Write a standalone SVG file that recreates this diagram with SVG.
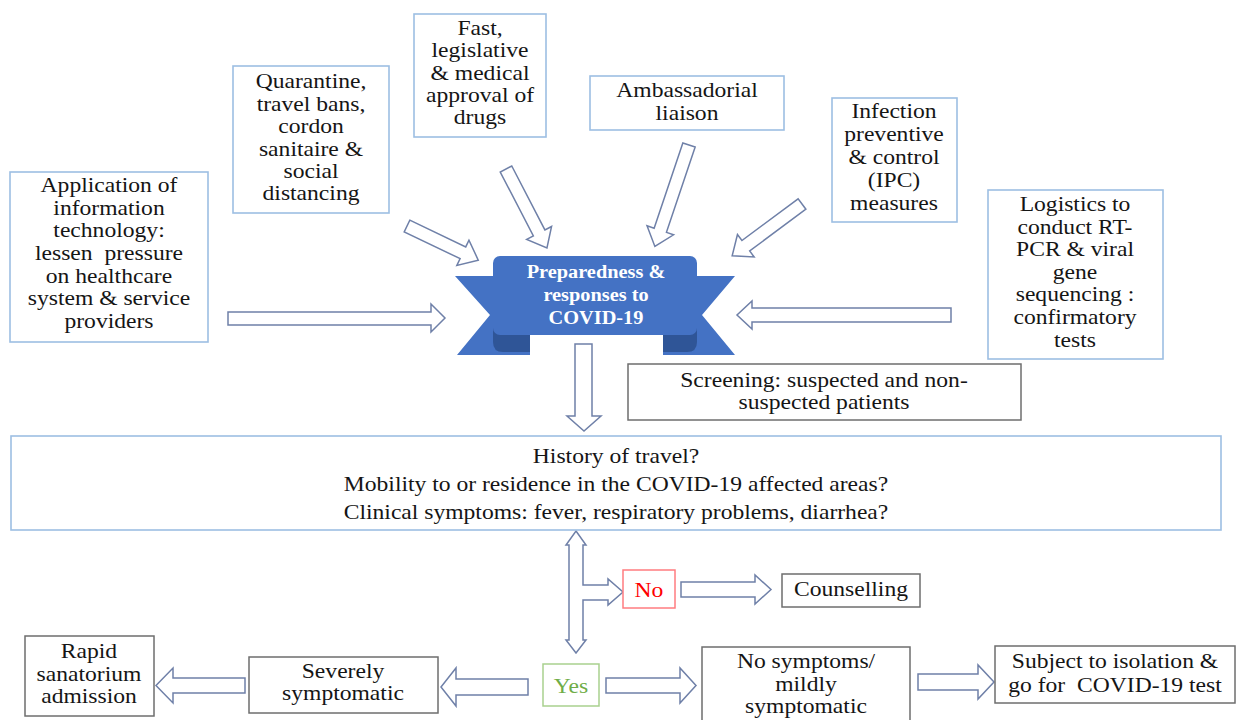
<svg xmlns="http://www.w3.org/2000/svg" width="1236" height="720" viewBox="0 0 1236 720">
<style>
.bb{fill:#fff;stroke:#9DBFE3;stroke-width:1.6}
.gb{fill:#fff;stroke:#6E6E6E;stroke-width:1.5}
.t{font-family:"Liberation Serif","Times New Roman",serif;font-size:20px;fill:#151515;text-anchor:middle}
.bt{font-family:"Liberation Serif","Times New Roman",serif;font-size:18px;font-weight:bold;fill:#fff;text-anchor:middle}
.ar{fill:#fff;stroke:#6F80A8;stroke-width:1.5;stroke-linejoin:miter}
</style>
<rect width="1236" height="720" fill="#fff"/>

<g id="connectors">
  <polygon class="ar" points="228,312 431,312 431,304 445,318 431,332 431,325 228,325"/>
  <polygon class="ar" transform="translate(407,226) rotate(25.6)" points="0,-6.5 62,-6.5 62,-14 79,0 62,14 62,6.5 0,6.5"/>
  <polygon class="ar" transform="translate(506,169) rotate(62.6)" points="0,-6.5 72,-6.5 72,-14 89,0 72,14 72,6.5 0,6.5"/>
  <polygon class="ar" transform="translate(689,145) rotate(108.6)" points="0,-6.5 90,-6.5 90,-14 107,0 90,14 90,6.5 0,6.5"/>
  <polygon class="ar" transform="translate(802,204) rotate(143.4)" points="0,-6.5 70,-6.5 70,-14 87,0 70,14 70,6.5 0,6.5"/>
  <polygon class="ar" points="951,308 752,308 752,301 737,315 752,329 752,322 951,322"/>
  <polygon class="ar" points="575,344 592,344 592,416 601,416 584,431 567,416 575,416"/>
  <path class="ar" d="M576,531 L586,545 L583,545 L583,585 L608,585 L608,579 L623,592 L608,605 L608,600 L583,600 L583,640 L586,640 L576,653 L566,640 L569,640 L569,545 L566,545 Z"/>
  <polygon class="ar" points="681,582 755,582 755,575 771,589.5 755,604 755,597 681,597"/>
  <polygon class="ar" points="606,678 680,678 680,668 696,685.5 680,703 680,693 606,693"/>
  <polygon class="ar" points="918,674 978,674 978,665 994,682 978,699 978,690 918,690"/>
  <polygon class="ar" points="528,679 456,679 456,668 441,687 456,706 456,695 528,695"/>
  <polygon class="ar" points="245,678 173,678 173,668 156,685.5 173,703 173,693 245,693"/>
</g>

<g id="banner">
  <polygon points="455,276 530,276 530,355 457,355 490,315" fill="#4472C4"/>
  <polygon points="735,276 663,276 663,355 735,355 702,315" fill="#4472C4"/>
  <path d="M493,318 H530 V352 H503 Q493,352 493,342 Z" fill="#2F5597"/>
  <path d="M663,318 H697 V342 Q697,352 687,352 H663 Z" fill="#2F5597"/>
  <rect x="493" y="256" width="204" height="79" rx="7" fill="#4472C4"/>
  <text class="bt" transform="translate(596 0) scale(1.13 1)"><tspan x="0" y="278">Preparedness &amp;</tspan><tspan x="0" y="301">responses to</tspan><tspan x="0" y="324">COVID-19</tspan></text>
</g>

<g id="n-app">
  <rect class="bb" x="10" y="172" width="198" height="170"/>
  <text class="t" transform="translate(109 0) scale(1.18 1)"><tspan x="0" y="192">Application of</tspan><tspan x="0" y="215">information</tspan><tspan x="0" y="237">technology:</tspan><tspan x="0" y="260">lessen&#160; pressure</tspan><tspan x="0" y="283">on healthcare</tspan><tspan x="0" y="305">system &amp; service</tspan><tspan x="0" y="328">providers</tspan></text>
</g>

<g id="n-quarantine">
  <rect class="bb" x="233" y="66" width="156" height="147"/>
  <text class="t" transform="translate(311 0) scale(1.18 1)"><tspan x="0" y="88">Quarantine,</tspan><tspan x="0" y="111">travel bans,</tspan><tspan x="0" y="133">cordon</tspan><tspan x="0" y="156">sanitaire &amp;</tspan><tspan x="0" y="178">social</tspan><tspan x="0" y="200">distancing</tspan></text>
</g>

<g id="n-fast">
  <rect class="bb" x="414" y="14" width="132" height="123"/>
  <text class="t" transform="translate(480 0) scale(1.18 1)"><tspan x="0" y="35">Fast,</tspan><tspan x="0" y="57">legislative</tspan><tspan x="0" y="80">&amp; medical</tspan><tspan x="0" y="102">approval of</tspan><tspan x="0" y="124">drugs</tspan></text>
</g>

<g id="n-ambassador">
  <rect class="bb" x="590" y="76" width="194" height="54"/>
  <text class="t" transform="translate(687 0) scale(1.18 1)"><tspan x="0" y="97">Ambassadorial</tspan><tspan x="0" y="120">liaison</tspan></text>
</g>

<g id="n-ipc">
  <rect class="bb" x="832" y="98" width="125" height="124"/>
  <text class="t" transform="translate(894 0) scale(1.18 1)"><tspan x="0" y="118">Infection</tspan><tspan x="0" y="141">preventive</tspan><tspan x="0" y="164">&amp; control</tspan><tspan x="0" y="187">(IPC)</tspan><tspan x="0" y="210">measures</tspan></text>
</g>

<g id="n-logistics">
  <rect class="bb" x="988" y="190" width="175" height="169"/>
  <text class="t" transform="translate(1075 0) scale(1.18 1)"><tspan x="0" y="211">Logistics to</tspan><tspan x="0" y="234">conduct RT-</tspan><tspan x="0" y="256">PCR &amp; viral</tspan><tspan x="0" y="279">gene</tspan><tspan x="0" y="301">sequencing :</tspan><tspan x="0" y="324">confirmatory</tspan><tspan x="0" y="347">tests</tspan></text>
</g>

<g id="n-screening">
  <rect class="gb" x="628" y="364" width="393" height="56"/>
  <text class="t" transform="translate(824 0) scale(1.18 1)"><tspan x="0" y="387">Screening: suspected and non-</tspan><tspan x="0" y="409">suspected patients</tspan></text>
</g>

<g id="n-history">
  <rect class="bb" x="11" y="436" width="1210" height="94"/>
  <text class="t" transform="translate(616 0) scale(1.18 1)"><tspan x="0" y="463">History of travel?</tspan><tspan x="0" y="491">Mobility to or residence in the COVID-19 affected areas?</tspan><tspan x="0" y="519">Clinical symptoms: fever, respiratory problems, diarrhea?</tspan></text>
</g>

<g id="n-no">
  <rect x="623" y="570" width="52" height="38" fill="#fff" stroke="#FF7C80" stroke-width="1.5"/>
  <text class="t" transform="translate(649 0) scale(1.18 1)" style="fill:#FF0000"><tspan x="0" y="597">No</tspan></text>
</g>

<g id="n-counselling">
  <rect class="gb" x="782" y="574" width="138" height="33"/>
  <text class="t" transform="translate(851 0) scale(1.18 1)"><tspan x="0" y="596">Counselling</tspan></text>
</g>

<g id="n-yes">
  <rect x="543" y="664" width="56" height="42" fill="#fff" stroke="#A9D18E" stroke-width="1.5"/>
  <text class="t" transform="translate(571 0) scale(1.18 1)" style="fill:#70AD47"><tspan x="0" y="693">Yes</tspan></text>
</g>

<g id="n-severe">
  <rect class="gb" x="249" y="657" width="189" height="56"/>
  <text class="t" transform="translate(343 0) scale(1.18 1)"><tspan x="0" y="678">Severely</tspan><tspan x="0" y="700">symptomatic</tspan></text>
</g>

<g id="n-rapid">
  <rect class="gb" x="25" y="636" width="129" height="80"/>
  <text class="t" transform="translate(89 0) scale(1.18 1)"><tspan x="0" y="658">Rapid</tspan><tspan x="0" y="681">sanatorium</tspan><tspan x="0" y="703">admission</tspan></text>
</g>

<g id="n-mild">
  <rect class="gb" x="702" y="647" width="208" height="80"/>
  <text class="t" transform="translate(806 0) scale(1.18 1)"><tspan x="0" y="668">No symptoms/</tspan><tspan x="0" y="691">mildly</tspan><tspan x="0" y="713">symptomatic</tspan></text>
</g>

<g id="n-isolation">
  <rect class="gb" x="995" y="646" width="240" height="57"/>
  <text class="t" transform="translate(1115 0) scale(1.18 1)"><tspan x="0" y="668">Subject to isolation &amp;</tspan><tspan x="0" y="692">go for&#160; COVID-19 test</tspan></text>
</g>
</svg>
